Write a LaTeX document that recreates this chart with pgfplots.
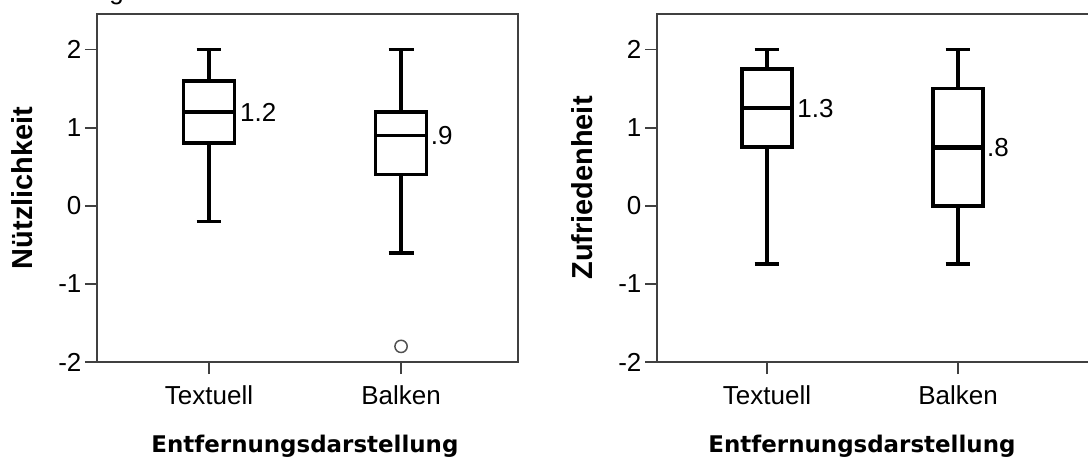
\documentclass[border=0pt]{standalone}
\usepackage{fontspec}
\setmainfont{Liberation Sans}
\newfontfamily\dvs{DejaVu Sans}
\usepackage{pgfplots}
\pgfplotsset{compat=1.18}
\usepgfplotslibrary{statistics}
\definecolor{axc}{RGB}{64,64,64}
\definecolor{outc}{RGB}{80,80,80}
\pgfplotsset{
  spss/.style={
    scale only axis,
    height=261pt,
    ymin=-2, ymax=2.455,
    ytick={-2,-1,0,1,2},
    xtick={1,2}, xticklabels={Textuell,Balken},
    tick align=outside, xtick pos=bottom, ytick pos=left,
    major tick length=9pt,
    every tick/.style={axc, line width=1.3pt},
    axis line style={axc, line width=1.3pt},
    /pgf/number format/assume math mode=true,
    ticklabel style={font=\fontsize{19.5}{22}\selectfont},
    yticklabel style={anchor=east, inner sep=0pt, xshift=-2.5pt},
    xticklabel style={anchor=north, inner sep=0pt, yshift=-8.5pt},
    xlabel style={font=\dvs\bfseries\fontsize{17.2}{20}\selectfont, anchor=base, at={(axis description cs:0.494,-0.2595)}},
    ylabel style={font=\bfseries\fontsize{21.7}{24}\selectfont, anchor=center},
    xlabel={Entfernungsdarstellung},
    clip=false,
    boxplot/draw direction=y,
  },
  bx/.style={black, line width=2.8pt, solid, mark=o, mark size=4.6pt,
    mark options={outc, line width=1.1pt, fill=white}},
}
\begin{document}
\begin{tikzpicture}
\useasboundingbox (0,0) rectangle (816pt,342.75pt);
\clip (0,0) rectangle (816pt,342.75pt);
\node[anchor=base west, inner sep=0pt, font=\fontsize{19.5}{22}\selectfont] at (81.75pt,342.75pt) {g};
% left panel
\begin{axis}[spss, at={(72.75pt,71.25pt)}, anchor=south west,
  width=315.75pt, xmin=0.4167, xmax=2.609,
  ylabel={Nützlichkeit},
  ylabel style={at={(axis description cs:-0.178,0.5)}}]
\addplot[bx, boxplot prepared={draw position=1, median=1.2, upper quartile=1.6,
  lower quartile=0.8, upper whisker=2, lower whisker=-0.2,
  box extend=0.266, whisker extend=0.13}] coordinates {};
\addplot[bx, boxplot prepared={draw position=2, median=0.9, upper quartile=1.2,
  lower quartile=0.4, upper whisker=2, lower whisker=-0.6,
  box extend=0.266, whisker extend=0.13}] table[row sep=\\, y index=0] {v\\ -1.8\\};
\node[anchor=west, inner sep=0pt, xshift=4pt, font=\fontsize{19.5}{22}\selectfont] at (axis cs:1.133,1.2) {1.2};
\node[anchor=west, inner sep=0pt, xshift=3pt, font=\fontsize{19.5}{22}\selectfont] at (axis cs:2.133,0.9) {.9};
\end{axis}
% right panel
\begin{axis}[spss, at={(492.75pt,71.25pt)}, anchor=south west,
  width=328.5pt, xmin=0.424, xmax=2.717,
  ylabel={Zufriedenheit},
  ylabel style={at={(axis description cs:-0.171,0.5)}},
  xlabel style={at={(axis description cs:0.468,-0.2595)}}]
\addplot[bx, boxplot prepared={draw position=1, median=1.25, upper quartile=1.75,
  lower quartile=0.75, upper whisker=2, lower whisker=-0.75,
  box extend=0.26, whisker extend=0.13}] coordinates {};
\addplot[bx, boxplot prepared={draw position=2, median=0.75, upper quartile=1.5,
  lower quartile=0, upper whisker=2, lower whisker=-0.75,
  box extend=0.26, whisker extend=0.13, every median/.style={line width=4pt}}] coordinates {};
\node[anchor=west, inner sep=0pt, xshift=4pt, font=\fontsize{19.5}{22}\selectfont] at (axis cs:1.13,1.25) {1.3};
\node[anchor=west, inner sep=0pt, xshift=3pt, font=\fontsize{19.5}{22}\selectfont] at (axis cs:2.13,0.75) {.8};
\end{axis}
\end{tikzpicture}
\end{document}
